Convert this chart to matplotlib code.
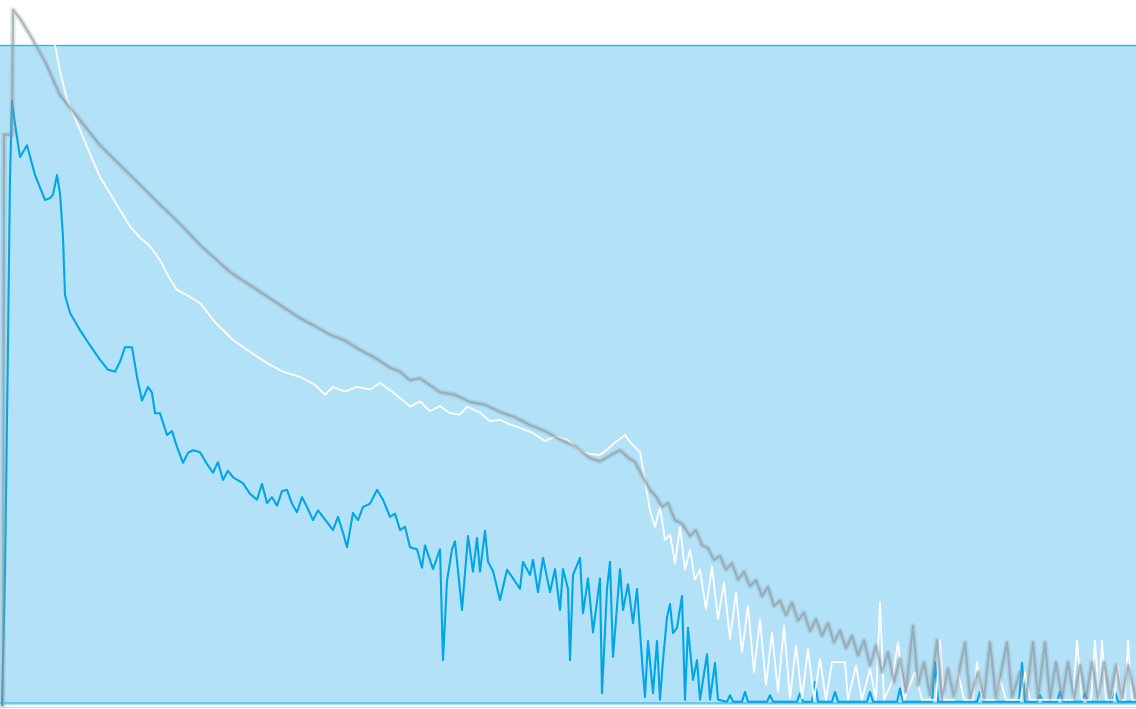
import matplotlib
matplotlib.use("Agg")
from matplotlib import pyplot as plt

# channel positions and counts (scaled 0-100) for the three traces
gray_x = [3, 4, 12, 13, 20, 30, 45, 60, 80, 100, 130, 160, 180, 200, 230, 260, 280, 300, 315, 330,
          345, 360, 375, 390, 400, 410, 420, 440, 455, 470, 485, 500, 515, 530, 545, 560, 575, 590,
          600, 610, 620, 628, 635, 642, 650, 656, 662, 668, 675, 682, 690, 696, 702, 708, 714, 720,
          726, 732, 738, 744, 750, 756, 762, 768, 774, 780, 786, 792, 798, 804, 810, 816, 822, 828,
          834, 840, 846, 852, 858, 864, 870, 876, 882, 888, 894, 900, 906, 913, 918, 924, 930, 937,
          942, 948, 954, 965, 970, 978, 984, 990, 996, 1007, 1012, 1020, 1026, 1033, 1038, 1045,
          1050, 1056, 1062, 1068, 1074, 1080, 1086, 1092, 1098, 1104, 1110, 1116, 1122, 1128, 1136]
gray_y = [0, 86.4, 86.4, 105.3, 104.0, 101.5, 97.5, 92.4, 88.6, 84.8, 80.3, 75.8, 72.9, 69.7, 65.6,
          62.6, 60.6, 58.6, 57.4, 56.1, 55.2, 53.8, 52.6, 51.1, 50.5, 49.2, 49.5, 47.4, 47.0, 45.9,
          45.5, 44.4, 43.6, 42.4, 41.5, 40.2, 39.2, 37.4, 36.9, 37.8, 38.6, 37.5, 36.8, 34.8, 32.6,
          31.6, 30.0, 30.6, 28.0, 27.5, 25.6, 26.5, 24.2, 23.8, 22.0, 22.6, 20.5, 21.5, 19.0, 20.2,
          18.0, 18.9, 16.5, 17.9, 15.0, 15.8, 13.6, 15.5, 12.8, 14.0, 11.2, 13.0, 10.5, 12.4, 9.5,
          11.3, 8.6, 10.5, 7.5, 9.8, 6.0, 9.0, 5.0, 8.0, 3.5, 7.0, 2.0, 12.0, 3.0, 6.5, 1.5, 9.8,
          1.0, 5.5, 1.2, 9.5, 1.0, 5.0, 1.0, 9.5, 1.0, 9.5, 1.2, 5.0, 1.0, 9.5, 1.0, 9.5, 1.0, 6.5,
          1.0, 6.5, 1.0, 6.0, 1.0, 6.5, 1.0, 6.5, 1.0, 6.0, 1.0, 6.0, 1.0]

white_x = [55, 60, 67, 80, 90, 100, 110, 120, 130, 140, 150, 160, 170, 177, 188, 200, 215, 233, 250,
           267, 283, 300, 315, 325, 333, 345, 357, 370, 380, 390, 400, 410, 420, 430, 440, 450, 460,
           467, 480, 490, 500, 510, 520, 533, 545, 555, 567, 580, 590, 600, 608, 615, 620, 625, 632,
           640, 645, 650, 655, 660, 665, 670, 675, 680, 685, 690, 695, 700, 706, 712, 718, 724, 730,
           736, 742, 748, 754, 760, 766, 772, 778, 784, 790, 796, 802, 808, 814, 820, 826, 832, 845,
           848, 856, 862, 870, 876, 880, 884, 892, 898, 904, 915, 922, 936, 940, 944, 954, 958, 964,
           973, 977, 982, 996, 1000, 1006, 1021, 1025, 1030, 1073, 1077, 1082, 1091, 1095, 1099,
           1102, 1106, 1114, 1118, 1122, 1125, 1128, 1132, 1136]
white_y = [100, 96, 91.7, 87.1, 83.5, 80, 77.5, 75, 72.5, 70.8, 69.5, 67.4, 64.5, 62.9, 62, 60.9, 58,
           55.3, 53.5, 51.8, 50.5, 49.7, 48.5, 47.0, 48.2, 47.5, 48.2, 47.8, 48.8, 47.7, 46.5, 45.2,
           46.0, 44.5, 45.3, 44.2, 44.0, 45.2, 44.3, 43.0, 43.2, 42.5, 42.0, 41.2, 40.0, 40.7, 40.2,
           38.5, 38.0, 37.9, 38.8, 39.8, 40.3, 40.9, 39.5, 38.3, 34.0, 29.5, 27.0, 30.0, 25.0, 25.8,
           21.5, 27.0, 20.5, 23.5, 19.0, 20.5, 14.5, 21.0, 13.0, 18.5, 10.0, 17.0, 8.0, 15.0, 5.0,
           13.0, 3.0, 11.0, 2.0, 12.0, 1.0, 9.0, 1.0, 8.5, 0.8, 7.0, 0.8, 6.5, 6.5, 0.8, 6.0, 0.8,
           5.5, 0.8, 15.5, 0.8, 3.5, 9.5, 0.8, 5.0, 0.8, 0.8, 9.8, 0.8, 0.8, 5.0, 0.8, 0.8, 6.5, 0.8,
           0.8, 4.0, 0.8, 0.8, 5.0, 0.8, 0.8, 9.8, 0.8, 0.8, 9.8, 0.8, 9.8, 0.8, 0.8, 6.0, 0.8, 0.8,
           9.8, 0.8, 0.8]

blue_x = [2, 5, 8, 10, 12, 15, 20, 27, 35, 45, 50, 53, 57, 60, 63, 65, 70, 80, 90, 100, 108, 115, 120,
          125, 132, 137, 142, 148, 152, 155, 160, 167, 172, 177, 183, 188, 193, 200, 207, 213, 218,
          223, 228, 233, 243, 250, 257, 262, 267, 272, 277, 282, 287, 292, 297, 302, 307, 313, 318,
          323, 333, 338, 343, 347, 353, 358, 363, 370, 377, 383, 390, 395, 400, 405, 410, 417, 422,
          425, 433, 440, 443, 447, 452, 455, 462, 468, 473, 477, 480, 485, 488, 493, 500, 507, 513,
          520, 523, 530, 533, 538, 543, 550, 555, 560, 563, 568, 570, 573, 580, 583, 588, 593, 600,
          602, 607, 610, 613, 620, 623, 628, 633, 637, 642, 645, 648, 653, 657, 660, 663, 667, 670,
          673, 677, 682, 685, 688, 693, 697, 700, 707, 710, 715, 718,
          727, 730, 733, 742, 745, 748, 767, 770, 773, 797, 800, 803, 812, 815, 818, 832, 835, 838,
          867, 870, 873, 897, 900, 903, 932, 935, 938, 977, 980, 983, 1019, 1022, 1025, 1037, 1040,
          1043, 1057, 1060, 1063, 1082, 1085, 1088, 1112, 1115, 1118, 1136]
blue_y = [0, 20, 55, 80, 91.5, 88, 83, 84.8, 80.3, 76.5, 76.8, 77.3, 80.3, 77.5, 70.9, 62.1, 59.4,
          56.8, 54.5, 52.3, 50.8, 50.5, 52.0, 54.2, 54.2, 49.7, 46.1, 48.2, 47.3, 44.2, 44.2, 40.9,
          41.5, 39.1, 36.7, 38.2, 38.6, 38.3, 36.5, 35.2, 36.8, 34.1, 35.5, 34.5, 33.6, 32.0, 31.1,
          33.5, 30.6, 31.5, 30.2, 32.4, 32.6, 30.5, 29.2, 31.5, 30.0, 28.0, 29.5, 28.5, 26.5, 28.5,
          26.1, 23.9, 29.1, 28.0, 30.0, 30.5, 32.6, 31.1, 28.5, 29.0, 26.5, 27.0, 23.9, 23.6, 20.8,
          24.2, 20.6, 23.6, 6.8, 18.8, 23.6, 24.8, 14.4, 25.6, 20.2, 25.3, 20.2, 26.4, 21.7, 20.3,
          15.9, 20.5, 19.2, 17.6, 21.7, 19.7, 22.0, 17.1, 22.3, 17.1, 20.6, 14.4, 20.6, 17.6, 6.8,
          19.7, 22.3, 13.9, 19.2, 11.0, 19.2, 1.8, 17.6, 21.7, 7.3, 20.6, 14.4, 18.3, 12.4, 17.6,
          6.8, 1.2, 9.7, 1.8, 9.7, 0.8, 6.8, 13.3, 15.3, 10.9, 11.7, 16.5, 0.8, 11.7, 3.8, 6.8, 0.8,
          7.7, 0.8, 6.4, 0.8,
          0.5, 1.5, 0.5, 0.5, 2.0, 0.5, 0.5, 1.5, 0.5, 0.5, 1.8, 0.5, 0.5, 3.5, 0.5, 0.5, 2.0, 0.5,
          0.5, 2.0, 0.5, 0.5, 2.5, 0.5, 0.5, 6.5, 0.5, 0.5, 2.0, 0.5, 0.5, 6.4, 0.5, 0.5, 1.5,
          0.5, 0.5, 2.0, 0.5, 0.5, 1.8, 0.5, 0.5, 2.0, 0.5, 0.5]

bg_color = '#b3e2f8'
blue = '#00a6e8'

fig = plt.figure(figsize=(11.36, 7.09), dpi=100)
ax = fig.add_axes([0, 0, 1, 1])

ax.fill_between([0, 1136], [0, 0], [100, 100], color=bg_color, lw=0, zorder=0)
ax.plot([0, 1136], [100, 100], color='#1cbfea', lw=1, zorder=1)
ax.plot([0, 1136], [0.3, 0.3], color='#62c3ea', lw=1.2, zorder=1)
ax.plot([0, 1136], [-0.3, -0.3], color='#d8dcde', lw=1, zorder=1)

ax.plot(blue_x, blue_y, color=blue, lw=1.5, zorder=2)
ax.plot(white_x, white_y, color='white', lw=1.3, zorder=3)
ax.plot(gray_x, gray_y, color='#8f9ea6', lw=4, alpha=0.25, zorder=4)
ax.plot(gray_x, gray_y, color='#8a979e', lw=1.5, alpha=0.6, zorder=4)

ax.set_xlim(0, 1136)
ax.set_ylim(-0.6, 106.8)
ax.axis('off')

fig.savefig('out.png', dpi=100)
